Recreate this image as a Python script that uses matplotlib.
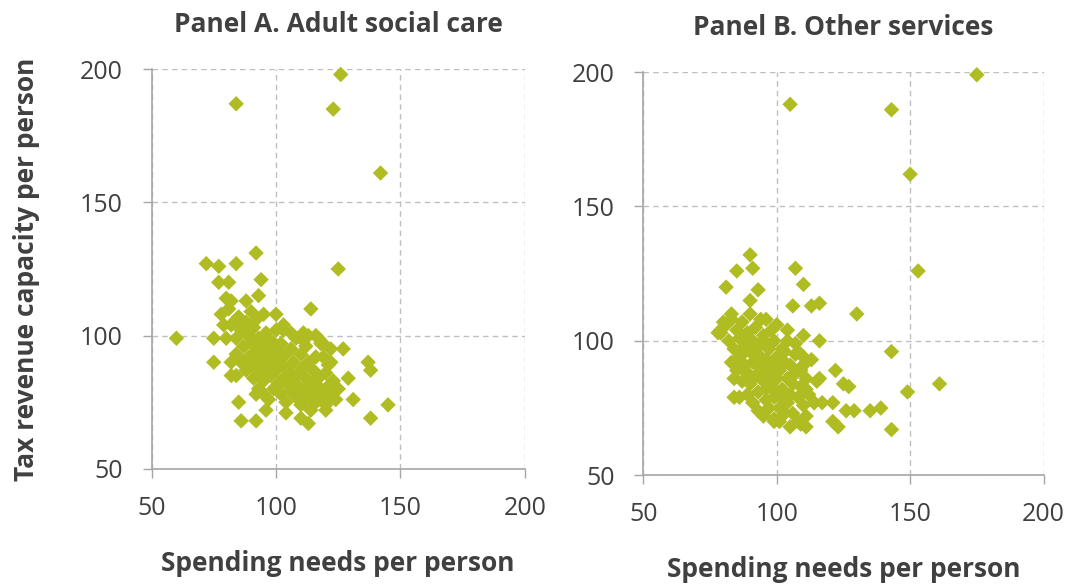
import matplotlib
matplotlib.use("Agg")
import matplotlib.pyplot as plt

plt.rcParams['font.family'] = ['Open Sans', 'DejaVu Sans']

# Panel A: adult social care spending needs vs tax revenue capacity (per person)
asc_needs = [
    84, 126, 123, 142, 125, 60, 145, 138, 137, 138, 131,
    92, 72, 77, 84, 77, 81, 94, 93, 80, 82, 88, 114, 78, 81, 90, 95, 100,
    79, 84, 87, 92, 75, 80, 103, 111, 116, 119, 127, 75, 82, 82, 84, 122,
    129, 85, 92, 86, 92, 96, 104, 110, 113, 120, 116, 114, 111,
    82, 84, 85, 86, 87, 88, 89, 89, 90, 91, 91, 92, 93, 93, 94, 95, 95, 96,
    96, 97, 98, 98, 99, 99, 100, 100, 101, 101, 102, 102, 103, 103, 104, 104,
    105, 105, 106, 106, 107, 107, 108, 108, 109, 109, 110, 110, 111, 111, 112,
    112, 113, 113, 114, 114, 115, 115, 116, 116, 117, 118, 118, 119, 120, 120,
    121, 122, 122, 123, 124, 125, 97, 95, 93, 91, 88, 86, 84, 100, 103, 106,
    110, 113, 117, 119, 121,
]
asc_capacity = [
    187, 198, 185, 161, 125, 99, 74, 69, 90, 87, 76,
    131, 127, 126, 127, 120, 120, 121, 115, 114, 113, 113, 110, 108, 110, 109, 108, 108,
    104, 106, 103, 106, 99, 99, 102, 101, 100, 97, 95, 90, 90, 85, 85, 90,
    84, 75, 78, 68, 68, 72, 71, 69, 67, 72, 79, 81, 75,
    104, 99, 107, 102, 96, 105, 100, 92, 97, 103, 89, 94, 99, 86, 91, 96, 83, 101,
    88, 93, 85, 98, 90, 80, 95, 87, 82, 92, 97, 78, 89, 84, 93, 75,
    87, 81, 95, 79, 90, 84, 77, 99, 86, 81, 93, 74, 88, 79, 84,
    96, 77, 90, 82, 72, 87, 79, 92, 75, 84, 80, 97, 77, 86, 74,
    81, 95, 78, 83, 76, 80, 76, 78, 80, 84, 87, 90, 93, 102, 104, 101,
    99, 100, 99, 92, 89,
]

# Panel B: other services spending needs vs tax revenue capacity (per person)
oth_needs = [
    175, 105, 143, 150, 153, 143, 161, 149, 143, 130,
    90, 85, 91, 107, 81, 93, 110, 90, 106, 113, 116, 83, 80, 96, 104, 110,
    79, 78, 116, 122, 125, 127, 121, 126, 129, 135, 139, 121, 123, 109, 111,
    99, 95, 86, 84, 116, 117, 111, 114, 109, 111, 108,
    79, 81, 82, 83, 84, 85, 86, 86, 87, 88, 88, 89, 89, 90, 90, 91, 91, 92,
    92, 93, 93, 94, 94, 95, 95, 96, 96, 97, 97, 98, 98, 99, 99, 100, 100, 101,
    101, 102, 102, 103, 103, 104, 104, 105, 105, 106, 106, 107, 107, 108, 108,
    109, 109, 110, 111, 111, 112, 113, 114, 115, 85, 87, 83, 84, 89, 91, 93,
    95, 97, 99, 101, 103, 105, 90, 94, 98, 100, 87, 92, 96, 103, 107, 110, 96,
    100, 104,
]
oth_capacity = [
    199, 188, 186, 162, 126, 96, 84, 81, 67, 110,
    132, 126, 127, 127, 120, 119, 121, 115, 113, 113, 114, 110, 107, 108, 104, 102,
    104, 103, 100, 89, 84, 83, 77, 74, 74, 74, 75, 70, 68, 69, 68,
    70, 73, 79, 86, 86, 77, 82, 77, 89, 92, 96,
    103, 106, 100, 108, 97, 104, 101, 94, 107, 98, 91, 103, 88, 96, 84, 100, 92, 87,
    105, 95, 81, 90, 99, 85, 102, 93, 78, 88, 97, 83, 91, 100, 79, 94, 86, 89,
    75, 97, 82, 92, 78, 86, 100, 80, 91, 84, 73, 95, 88, 79, 70,
    90, 83, 76, 86, 72, 80, 93, 77, 85, 89, 85, 92, 79, 80, 77, 74,
    72, 75, 71, 70, 73, 68, 110, 108, 104, 106, 95, 97, 99, 96, 99, 94, 82,
    80, 77,
]

panel_titles = ["Panel A. Adult social care", "Panel B. Other services"]
x_label = "Spending needs per person"
y_label = "Tax revenue capacity per person"
ticks = [50, 100, 150, 200]

MARK = "#AFBC22"
TEXT = "#404040"
SPINE = "#A6A6A6"
GRID = "#BFBFBF"

fig = plt.figure(figsize=(10.67, 5.86), dpi=100)
axA = fig.add_axes([0.142, 0.200, 0.350, 0.682])
axB = fig.add_axes([0.603, 0.189, 0.375, 0.688])

for ax, xs, ys, title in [(axA, asc_needs, asc_capacity, panel_titles[0]),
                           (axB, oth_needs, oth_capacity, panel_titles[1])]:
    ax.set_xlim(50, 200)
    ax.set_ylim(50, 200)
    ax.set_xticks(ticks)
    ax.set_yticks(ticks)
    ax.grid(True, color=GRID, linestyle=(0, (4, 3)), linewidth=1.0)
    ax.set_axisbelow(True)
    for side in ("top", "right"):
        ax.spines[side].set_visible(False)
    for side in ("left", "bottom"):
        ax.spines[side].set_color(SPINE)
        ax.spines[side].set_linewidth(1.2)
    ax.tick_params(axis="both", direction="out", length=6.5, width=1.0,
                   color=SPINE, labelcolor=TEXT, labelsize=18)
    ax.tick_params(axis="x", pad=13)
    ax.tick_params(axis="y", pad=14)
    ax.scatter(xs, ys, marker="D", s=62, color=MARK, edgecolors="none",
               zorder=3, clip_on=False)
    ax.set_title(title, fontsize=19, fontweight="bold", color=TEXT, pad=27)
    ax.set_xlabel(x_label, fontsize=19, fontweight="bold", color=TEXT,
                  labelpad=21)

axA.set_ylabel(y_label, fontsize=19, fontweight="bold", color=TEXT, labelpad=29)

fig.savefig("out.png", dpi=100, facecolor="white")
